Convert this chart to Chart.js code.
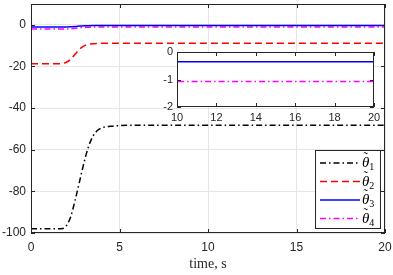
<!DOCTYPE html>
<html>
<head>
<meta charset="utf-8">
<script src="https://cdn.jsdelivr.net/npm/chart.js@4.4.1/dist/chart.umd.min.js"></script>
<style>
  body { margin: 0; background: #fff; }
  #wrap { position: relative; width: 393px; height: 275px; }
  #main { position: absolute; left: 0; top: 0; }
  #inset { position: absolute; left: 150px; top: 46px; }
</style>
</head>
<body>
<div id="wrap">
  <canvas id="main" width="393" height="275"></canvas>
  <canvas id="inset" width="230" height="84"></canvas>
</div>
<script>
// time samples (s) and the four parameter errors
var time   = [0, 1, 1.5, 1.8, 2, 2.25, 2.5, 2.75, 3, 3.25, 3.5, 3.75, 4, 4.5, 5, 6, 8, 10, 15, 20];
var theta1 = [-98, -98, -98, -97.8, -96.5, -92, -84, -75, -66, -58.5, -53.5, -50.8, -49.5, -48.7, -48.4, -48.2, -48.2, -48.2, -48.2, -48.2];
var theta2 = [-18.7, -18.7, -18.7, -18.5, -18, -16.5, -14, -11.6, -10.1, -9.4, -9.1, -8.95, -8.9, -8.85, -8.8, -8.8, -8.8, -8.8, -8.8, -8.8];
var theta3 = [-1.0, -1.0, -1.0, -1.0, -1.0, -0.95, -0.85, -0.6, -0.45, -0.4, -0.37, -0.36, -0.35, -0.35, -0.35, -0.35, -0.35, -0.35, -0.35, -0.35];
var theta4 = [-2.0, -2.0, -2.0, -2.0, -2.0, -1.9, -1.7, -1.45, -1.25, -1.15, -1.1, -1.08, -1.07, -1.07, -1.07, -1.07, -1.07, -1.07, -1.07, -1.07];

var labels = ['θ1', 'θ2', 'θ3', 'θ4'];
var xTicks = [0, 5, 10, 15, 20];
var yTicks = [-100, -80, -60, -40, -20, 0];
var insetXTicks = [10, 12, 14, 16, 18, 20];
var insetYTicks = [-2, -1, 0];

function pts(ys) {
  return time.map(function (t, i) { return { x: t, y: ys[i] }; });
}

var styles = [
  { color: '#000000', dash: [6, 3, 1.5, 3] },
  { color: '#ff0000', dash: [7, 4] },
  { color: '#0000ff', dash: [] },
  { color: '#ff00ff', dash: [6, 3, 1.5, 3] }
];
var series = [theta1, theta2, theta3, theta4];

function makeSets(idx) {
  return idx.map(function (i) {
    return {
      label: labels[i],
      data: pts(series[i]),
      borderColor: styles[i].color,
      borderDash: styles[i].dash,
      borderWidth: 1.5,
      pointRadius: 0,
      cubicInterpolationMode: 'monotone',
      fill: false
    };
  });
}

function fixX(h) {
  return function (s) { s.height = h; s.paddingLeft = 0; s.paddingRight = 0; };
}
function fixY(w) {
  return function (s) { s.width = w; s.paddingTop = 0; s.paddingBottom = 0; };
}

// box around plot area + small inward tick marks, matlab style
var boxPlugin = {
  id: 'box',
  beforeDraw: function (chart) {
    var a = chart.chartArea, c = chart.ctx;
    c.save();
    c.fillStyle = '#ffffff';
    c.fillRect(a.left, a.top, a.right - a.left, a.bottom - a.top);
    c.restore();
  },
  afterDraw: function (chart) {
    var a = chart.chartArea, c = chart.ctx;
    var xs = chart.scales.x, ys = chart.scales.y;
    c.save();
    c.strokeStyle = '#262626';
    c.lineWidth = 1;
    c.strokeRect(a.left + 0.5, a.top + 0.5, a.right - a.left - 1, a.bottom - a.top - 1);
    xs.ticks.forEach(function (tk) {
      var px = Math.round(xs.getPixelForValue(tk.value)) + 0.5;
      c.beginPath();
      c.moveTo(px, a.bottom); c.lineTo(px, a.bottom - 4);
      c.moveTo(px, a.top); c.lineTo(px, a.top + 4);
      c.stroke();
    });
    ys.ticks.forEach(function (tk) {
      var py = Math.round(ys.getPixelForValue(tk.value)) + 0.5;
      c.beginPath();
      c.moveTo(a.left, py); c.lineTo(a.left + 4, py);
      c.moveTo(a.right, py); c.lineTo(a.right - 4, py);
      c.stroke();
    });
    c.restore();
  }
};

var legendPlugin = {
  id: 'boxLegend',
  afterDraw: function (chart) {
    var c = chart.ctx;
    var x0 = 315, y0 = 150, w = 65, h = 78;
    c.save();
    c.fillStyle = '#ffffff';
    c.fillRect(x0, y0, w, h);
    c.strokeStyle = '#262626';
    c.lineWidth = 1;
    c.strokeRect(x0 + 0.5, y0 + 0.5, w, h);
    chart.data.datasets.forEach(function (ds, i) {
      var y = y0 + 13 + i * 18.5;
      c.strokeStyle = ds.borderColor;
      c.lineWidth = 1.5;
      c.setLineDash(ds.borderDash);
      c.beginPath();
      c.moveTo(x0 + 5, y); c.lineTo(x0 + 45, y);
      c.stroke();
      c.setLineDash([]);
      c.fillStyle = '#000000';
      c.textBaseline = 'alphabetic';
      // theta with tilde accent and subscript index
      var sym = ds.label.charAt(0), sub = ds.label.slice(1);
      c.font = 'italic 15px "Liberation Serif"';
      var tx = x0 + 47, base = y + 4;
      c.fillText(sym, tx, base);
      var tw = c.measureText(sym).width;
      c.font = '13px "Liberation Serif"';
      c.fillText('˜', tx + 1.5, base - 6);
      c.font = '10px "Liberation Serif"';
      c.fillText(sub, tx + tw, base + 3);
    });
    c.restore();
  }
};

var tickFont = { family: 'Liberation Sans', size: 12 };
var insetFont = { family: 'Liberation Sans', size: 11 };

new Chart(document.getElementById('main'), {
  type: 'line',
  data: { datasets: makeSets([0, 1, 2, 3]) },
  options: {
    responsive: false,
    animation: false,
    layout: { padding: { top: 4, right: 8 } },
    plugins: { legend: { display: false }, tooltip: { enabled: false } },
    scales: {
      x: {
        type: 'linear', min: 0, max: 20,
        afterBuildTicks: function (s) { s.ticks = xTicks.map(function (v) { return { value: v }; }); },
        afterFit: fixX(42),
        grid: { color: '#e6e6e6', drawTicks: false },
        border: { display: false },
        ticks: { font: tickFont, color: '#262626', padding: 7, maxRotation: 0 },
        title: { display: true, text: 'time, s', font: { family: 'Liberation Serif', size: 14 }, color: '#262626', padding: { top: 0, bottom: 2 } }
      },
      y: {
        min: -100, max: 10,
        afterBuildTicks: function (s) { s.ticks = yTicks.map(function (v) { return { value: v }; }); },
        afterFit: fixY(31),
        grid: { color: '#e6e6e6', drawTicks: false },
        border: { display: false },
        ticks: { font: tickFont, color: '#262626', padding: 5 }
      }
    }
  },
  plugins: [boxPlugin, legendPlugin]
});

new Chart(document.getElementById('inset'), {
  type: 'line',
  data: { datasets: makeSets([2, 3]) },
  options: {
    responsive: false,
    animation: false,
    layout: { padding: { top: 6, right: 6 } },
    plugins: { legend: { display: false }, tooltip: { enabled: false } },
    scales: {
      x: {
        type: 'linear', min: 10, max: 20,
        afterBuildTicks: function (s) { s.ticks = insetXTicks.map(function (v) { return { value: v }; }); },
        afterFit: fixX(23),
        grid: { display: false, drawTicks: false },
        border: { display: false },
        ticks: { font: insetFont, color: '#262626', padding: 4, maxRotation: 0 }
      },
      y: {
        min: -2, max: 0,
        afterBuildTicks: function (s) { s.ticks = insetYTicks.map(function (v) { return { value: v }; }); },
        afterFit: fixY(27),
        grid: { display: false, drawTicks: false },
        border: { display: false },
        ticks: { font: insetFont, color: '#262626', padding: 4 }
      }
    }
  },
  plugins: [boxPlugin]
});
</script>
</body>
</html>
